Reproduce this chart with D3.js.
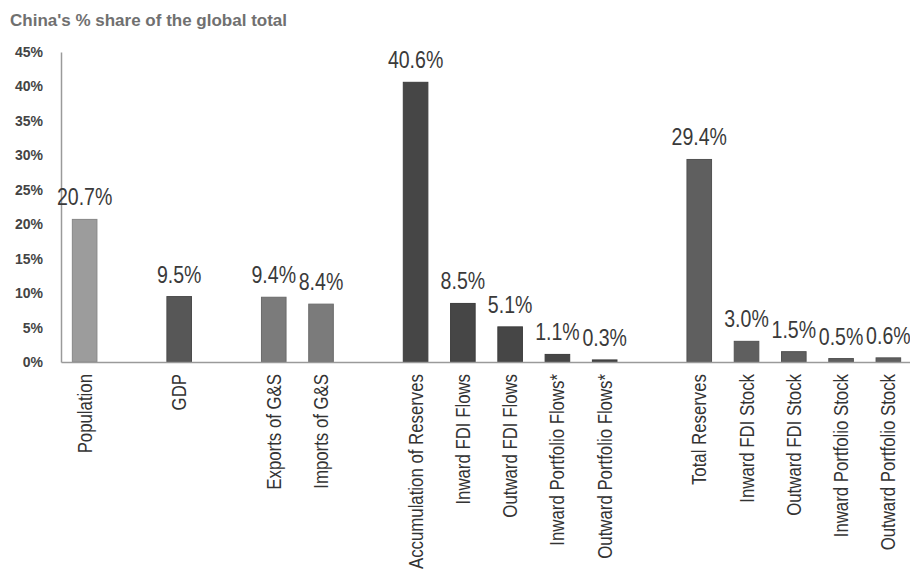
<!DOCTYPE html>
<html>
<head>
<meta charset="utf-8">
<script src="https://cdn.jsdelivr.net/npm/d3@7"></script>
<style>
  body { margin: 0; background: #fff; }
  svg { display: block; }
</style>
</head>
<body>
<div id="chart"><svg></svg></div>
<script>
// bar groups, one empty slot is left between each group
var groups = [
    ["Population"],
    ["GDP"],
    ["Exports of G&S", "Imports of G&S"],
    ["Accumulation of Reserves", "Inward FDI Flows", "Outward FDI Flows", "Inward Portfolio Flows*", "Outward Portfolio Flows*"],
    ["Total Reserves", "Inward FDI Stock", "Outward FDI Stock", "Inward Portfolio Stock", "Outward Portfolio Stock"]
];
var groupValues = [
    [20.7],
    [9.5],
    [9.4, 8.4],
    [40.6, 8.5, 5.1, 1.1, 0.3],
    [29.4, 3.0, 1.5, 0.5, 0.6]
];
var groupColors = ["#9c9c9c", "#575757", "#7b7b7b", "#464646", "#5f5f5f"];
var yTicks = [0, 5, 10, 15, 20, 25, 30, 35, 40, 45];
var title = "China's % share of the global total";

var width = 910,
    height = 574,
    margin = {top: 52, left: 61, right: 0, bottom: 212};

var font = "'Liberation Sans', Arial, sans-serif";

var svg = d3.select("#chart").select("svg")
    .attr("width", width)
    .attr("height", height);

// flatten groups and add gap keys between them
var data = [], domain = [];
groups.forEach(function(g, gi) {
    if (gi > 0) domain.push("gap" + gi);
    g.forEach(function(name, i) {
        domain.push(name);
        data.push({name: name, value: groupValues[gi][i], color: groupColors[gi]});
    });
});

var x = d3.scaleBand()
    .domain(domain)
    .range([margin.left, 912])
    .paddingInner(0.48)
    .paddingOuter(0.24);

var y = d3.scaleLinear()
    .domain([0, 45])
    .range([height - margin.bottom, margin.top]);

svg.append("text")
    .attr("x", 10)
    .attr("y", 26)
    .style("font-family", font)
    .style("font-weight", "bold")
    .style("font-size", "17px")
    .style("fill", "#707070")
    .text(title);

// y axis labels only, no ticks
var yAxis = d3.axisLeft(y)
    .tickValues(yTicks)
    .tickFormat(function(d) { return d + "%"; })
    .tickSize(0)
    .tickPadding(18);

var gy = svg.append("g")
    .attr("transform", "translate(" + margin.left + ",0)")
    .call(yAxis);
gy.select(".domain").attr("stroke", "#9a9a9a").attr("stroke-width", 1.5);
gy.selectAll("text")
    .style("font-family", font)
    .style("font-weight", "bold")
    .style("font-size", "14px")
    .style("fill", "#444");

svg.selectAll("rect.bar")
    .data(data)
    .enter()
    .append("rect")
        .attr("class", "bar")
        .attr("x", d => x(d.name))
        .attr("width", x.bandwidth())
        .attr("y", d => y(d.value))
        .attr("height", d => y(0) - y(d.value))
        .style("fill", d => d.color)
        .style("stroke", d => d3.color(d.color).darker(0.4))
        .style("stroke-width", 1);

// condensed look: squeeze the text along its direction
svg.selectAll("text.val")
    .data(data)
    .enter()
    .append("text")
        .attr("class", "val")
        .attr("transform", d => "translate(" + (x(d.name) + x.bandwidth() / 2) + "," + (y(d.value) - 14) + ") scale(0.85,1)")
        .attr("text-anchor", "middle")
        .style("font-family", font)
        .style("font-size", "23px")
        .style("fill", "#3a3a3a")
        .text(d => d.value.toFixed(1) + "%");

// x axis line
var xAxis = d3.axisBottom(x).tickSize(0).tickFormat("");
var gx = svg.append("g")
    .attr("transform", "translate(0," + y(0) + ")")
    .call(xAxis);
gx.select(".domain").attr("stroke", "#9a9a9a").attr("stroke-width", 1.5);

svg.selectAll("text.cat")
    .data(data)
    .enter()
    .append("text")
        .attr("class", "cat")
        .attr("transform", d => "translate(" + (x(d.name) + x.bandwidth() / 2 + 7) + "," + (y(0) + 12) + ") rotate(-90) scale(0.8,1)")
        .attr("text-anchor", "end")
        .style("font-family", font)
        .style("font-size", "21px")
        .style("fill", "#333")
        .text(d => d.name);
</script>
</body>
</html>
